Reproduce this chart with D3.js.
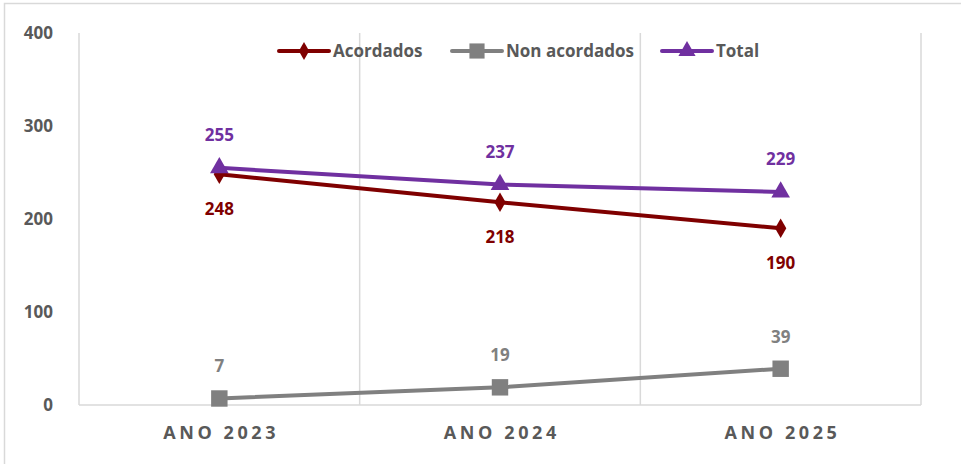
<!DOCTYPE html>
<html><head><meta charset="utf-8">
<script src="https://cdn.jsdelivr.net/npm/d3@7"></script>
<style>body{margin:0;background:#fff;} svg{display:block;}</style>
</head><body>
<script>
const categories = ["ANO 2023", "ANO 2024", "ANO 2025"];
const acordados = [248, 218, 190];
const nonAcordados = [7, 19, 39];
const total = [255, 237, 229];
const yTicks = [0, 100, 200, 300, 400];
const seriesNames = ["Acordados", "Non acordados", "Total"];

const W = 961, H = 464;
const font = "'Open Sans', 'Liberation Sans', sans-serif";
const svg = d3.select("body").append("svg").attr("width", W).attr("height", H);
svg.append("rect").attr("x", 4.5).attr("y", 3.5).attr("width", W + 10).attr("height", H + 10)
  .attr("fill", "#fff").attr("stroke", "#d9d9d9").attr("stroke-width", 1.5);

const L = 79, R = 921, T = 33, B = 405;
const x = d3.scaleBand().domain(categories).range([L, R]);
const y = d3.scaleLinear().domain([0, 400]).range([B, T]);
const cx = c => x(c) + x.bandwidth() / 2;

// vertical gridlines at band boundaries
const bounds = categories.map(c => x(c)).concat([R]);
svg.append("g").selectAll("line").data(bounds).join("line")
  .attr("x1", d => d).attr("x2", d => d).attr("y1", T).attr("y2", B)
  .attr("stroke", "#d9d9d9").attr("stroke-width", 1.5);
// bottom axis line
svg.append("line").attr("x1", L).attr("x2", R).attr("y1", B).attr("y2", B)
  .attr("stroke", "#d9d9d9").attr("stroke-width", 1.5);

// y axis labels
const yAxis = d3.axisLeft(y).tickValues(yTicks).tickSize(0).tickPadding(26);
const gy = svg.append("g").attr("transform", `translate(${L},0)`).call(yAxis);
gy.select(".domain").remove();
gy.selectAll("text").attr("fill", "#595959").attr("font-family", font)
  .attr("font-weight", "bold").attr("font-size", 17);

// x axis labels
const xAxis = d3.axisBottom(x).tickSize(0).tickPadding(21.5);
const gx = svg.append("g").attr("transform", `translate(0,${B})`).call(xAxis);
gx.select(".domain").remove();
gx.selectAll("text").attr("fill", "#595959").attr("font-family", font)
  .attr("font-weight", "bold").attr("font-size", 18).attr("letter-spacing", "3.6px")
  .attr("dx", "1.8px");

const series = [
  {name: seriesNames[0], vals: acordados, color: "#7f0000", marker: "diamond", labelDy: 41},
  {name: seriesNames[1], vals: nonAcordados, color: "#808080", marker: "square", labelDy: -26},
  {name: seriesNames[2], vals: total, color: "#7030a0", marker: "triangle", labelDy: -27}
];
const symMap = {diamond: d3.symbolDiamond, square: d3.symbolSquare, triangle: d3.symbolTriangle};
const symSize = {diamond: 110, square: 270, triangle: 150};
const line = d3.line().x((d, i) => cx(categories[i])).y(d => y(d));

const order = [1, 0, 2];
order.forEach(k => {
  const s = series[k];
  const g = svg.append("g");
  g.append("path").attr("d", line(s.vals)).attr("fill", "none")
    .attr("stroke", s.color).attr("stroke-width", 4).attr("stroke-linejoin", "round");
  g.selectAll("path.m").data(s.vals).join("path").attr("class", "m")
    .attr("transform", (d, i) => `translate(${cx(categories[i])},${y(d)})`)
    .attr("d", d3.symbol().type(symMap[s.marker]).size(symSize[s.marker]))
    .attr("fill", s.color);
  g.selectAll("text").data(s.vals).join("text")
    .attr("x", (d, i) => cx(categories[i])).attr("y", d => y(d) + s.labelDy)
    .attr("text-anchor", "middle").attr("fill", s.color)
    .attr("font-family", font).attr("font-weight", "bold").attr("font-size", 17)
    .text(d => d);
});

// legend
const legX = [279, 452, 662];
series.forEach((s, i) => {
  const g = svg.append("g").attr("transform", `translate(${legX[i]},51)`);
  g.append("line").attr("x1", 0).attr("x2", 50).attr("stroke", s.color)
    .attr("stroke-width", 4).attr("stroke-linecap", "round");
  g.append("path").attr("transform", "translate(25,0)")
    .attr("d", d3.symbol().type(symMap[s.marker]).size(symSize[s.marker] * 0.85)).attr("fill", s.color);
  g.append("text").attr("x", 54).attr("y", 6).attr("fill", "#595959")
    .attr("font-family", font).attr("font-weight", "bold").attr("font-size", 17).text(s.name);
});
</script>
</body></html>
